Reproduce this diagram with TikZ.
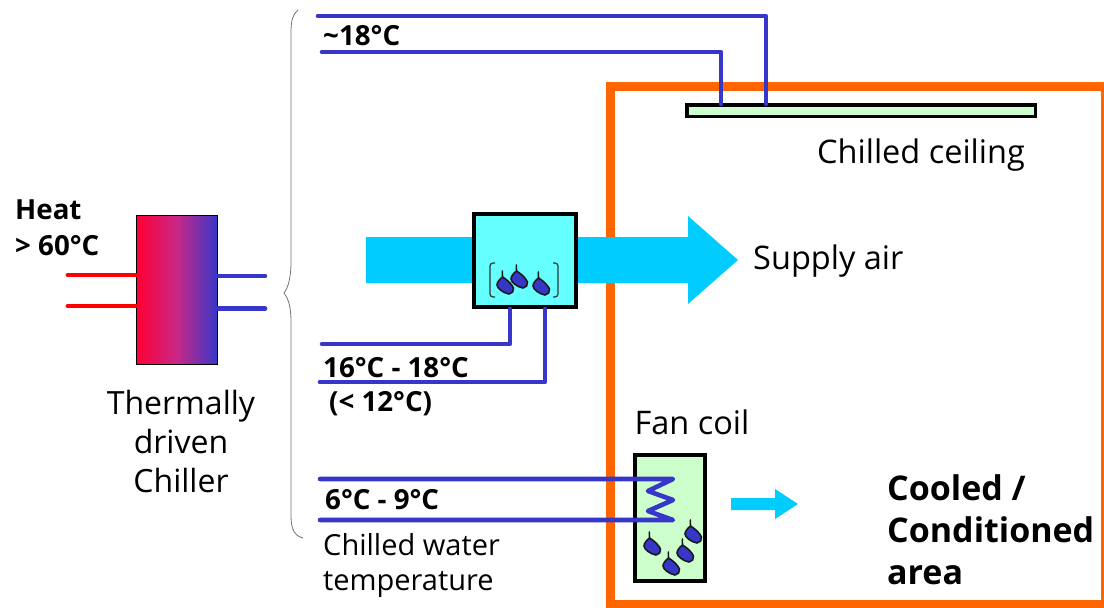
\documentclass[tikz,border=0pt]{standalone}
\usepackage{fontspec}
\setmainfont{Open Sans}
\definecolor{pipeblue}{HTML}{3636C8}
\definecolor{pipered}{HTML}{FF0000}
\definecolor{aircyan}{HTML}{00CCFF}
\definecolor{hxcyan}{HTML}{66FFFF}
\definecolor{coilgreen}{HTML}{CCFFCC}
\definecolor{roomorange}{HTML}{FF6600}
\definecolor{gradred}{HTML}{FF0033}
\definecolor{gradmid}{HTML}{C82888}
\tikzset{
  pipe/.style={draw=pipeblue,line width=4.6pt,line cap=round,line join=round},
  hotpipe/.style={draw=pipered,line width=4.8pt,line cap=round},
  unit/.style={draw=black,line width=4pt,inner sep=0pt,anchor=north west},
  lbl/.style={inner sep=0pt,anchor=west,font=\fontsize{32.5}{39}\selectfont},
  blbl/.style={inner sep=0pt,anchor=west,font=\fontsize{27.7}{32}\selectfont\bfseries},
  big/.style={inner sep=0pt,font=\fontsize{32}{39}\selectfont,align=center},
  bigb/.style={inner sep=0pt,anchor=north west,font=\fontsize{34}{42}\selectfont\bfseries,align=left},
  air/.style={fill=aircyan,draw=none},
  pics/drop/.style={code={
    \draw[fill=pipeblue,draw=black!90,line width=1.6pt,line join=round]
      (-2.7,-14) -- (-2.5,-8) .. controls (-5,-6) and (-8,-3) .. (-8,0) .. controls (-8,3) and (-2,8) .. (4,9)
      .. controls (7,9) and (9,6) .. (8.5,3) .. controls (7,-1) and (1,-6) .. (-2.5,-8) -- cycle;
  }}
}
\begin{document}
\begin{tikzpicture}[x=1pt,y=-1pt]
\useasboundingbox (0,0) rectangle (1104,608);
% room
\draw[roomorange,line width=9pt,line join=miter] (1105.5,604.5) -- (610.5,604.5) -- (610.5,86.5) -- (1105.5,86.5) -- cycle;
% ceiling
\node[unit,fill=coilgreen,minimum width=348.5pt,minimum height=11.5pt,line width=3.5pt] (ceil) at (685,103) {};
\node[lbl,anchor=center] (ceillbl) at (921,155) {Chilled ceiling};
% air arrow
\fill[air] (366,237) -- (688,237) -- (688,216) -- (738,260) -- (688,304) -- (688,283) -- (366,283) -- cycle;
\node[lbl] (supply) at (753,261) {Supply air};
% air heat exchanger
\node[unit,fill=hxcyan,minimum width=102pt,minimum height=93pt] (hx) at (472,212) {};
\draw[black!80,line width=1.2pt,rounded corners=3pt] (495,263) -- (490,263) -- (490,297) -- (495,297);
\draw[black!80,line width=1.2pt,rounded corners=3pt] (553,263) -- (558,263) -- (558,297) -- (553,297);
\pic at (505,285) {drop};
\pic at (519,279) {drop};
\pic at (541,286) {drop};
% chiller
\node[draw=black,line width=0.8pt,left color=gradred,right color=pipeblue,middle color=gradmid,minimum width=81.2pt,minimum height=149pt,inner sep=0pt,anchor=north west] (ch) at (136,215) {};
\node[big] (chlbl) at (181,441) {Thermally\\driven\\Chiller};
\node[blbl] (heat) at (15,210) {Heat};
\node[blbl] (temp) at (15,246) {> 60°C};
% chiller pipes
\coordinate (r1) at (68,275); \coordinate (r2) at (68,306);
\coordinate (b1) at (265,276); \coordinate (b2) at (265,308.5);
\draw[hotpipe] (r1) -- (r1-|ch.west);
\draw[hotpipe] (r2) -- (r2-|ch.west);
\draw[pipe] (b1-|ch.east) -- (b1);
\draw[pipe] (b2-|ch.east) -- (b2);
% brace
\draw[black!55,line width=0.8pt] (298,10) .. controls (293,14) and (291,20) .. (291,32) -- (291,262)
  .. controls (291,278) and (288,288) .. (284,293) .. controls (288,298) and (291,306) .. (291,322)
  -- (291,516) .. controls (291,530) and (295,536) .. (303,538);
% ceiling pipes
\coordinate (t1) at (318,16); \coordinate (t2) at (322,52);
\coordinate (d1) at (766,104); \coordinate (d2) at (721,104);
\draw[pipe] (t1) -| (d1);
\draw[pipe] (t2) -| (d2);
\node[blbl] (t18) at (323,36) {\textasciitilde 18°C};
% air pipes
\coordinate (m1) at (322,344); \coordinate (m2) at (320,382);
\draw[pipe] (m1) -| (510,309);
\draw[pipe] (m2) -| (545,309);
\node[blbl] (t16) at (323,368) {16°C - 18°C};
\node[blbl] (t12) at (329,404) {(< 12°C)};
% fan coil
\node[unit,fill=coilgreen,minimum width=70pt,minimum height=126pt] (fc) at (633,453) {};
\node[lbl,anchor=center] (fclbl) at (692,422) {Fan coil};
\coordinate (c1) at (320,479); \coordinate (c2) at (320,520);
\draw[pipe] (c1) -- (673,479) -- (648,491) -- (673,500) -- (648,511) -- (673,520) -- (c2);
\pic at (652,546) {drop};
\pic at (671,566) {drop};
\pic at (685,553) {drop};
\pic at (693,534) {drop};
\node[blbl] (t6) at (325,500) {6°C - 9°C};
\node[lbl,font=\fontsize{29}{35}\selectfont,align=left,anchor=north west] (cw) at (323,533) {Chilled water\\temperature};
% small arrow
\fill[air] (731,498) -- (775,498) -- (775,489) -- (798,504) -- (775,519) -- (775,510) -- (731,510) -- cycle;
\node[bigb] (area) at (887,474) {Cooled /\\Conditioned\\area};
\end{tikzpicture}
\end{document}
